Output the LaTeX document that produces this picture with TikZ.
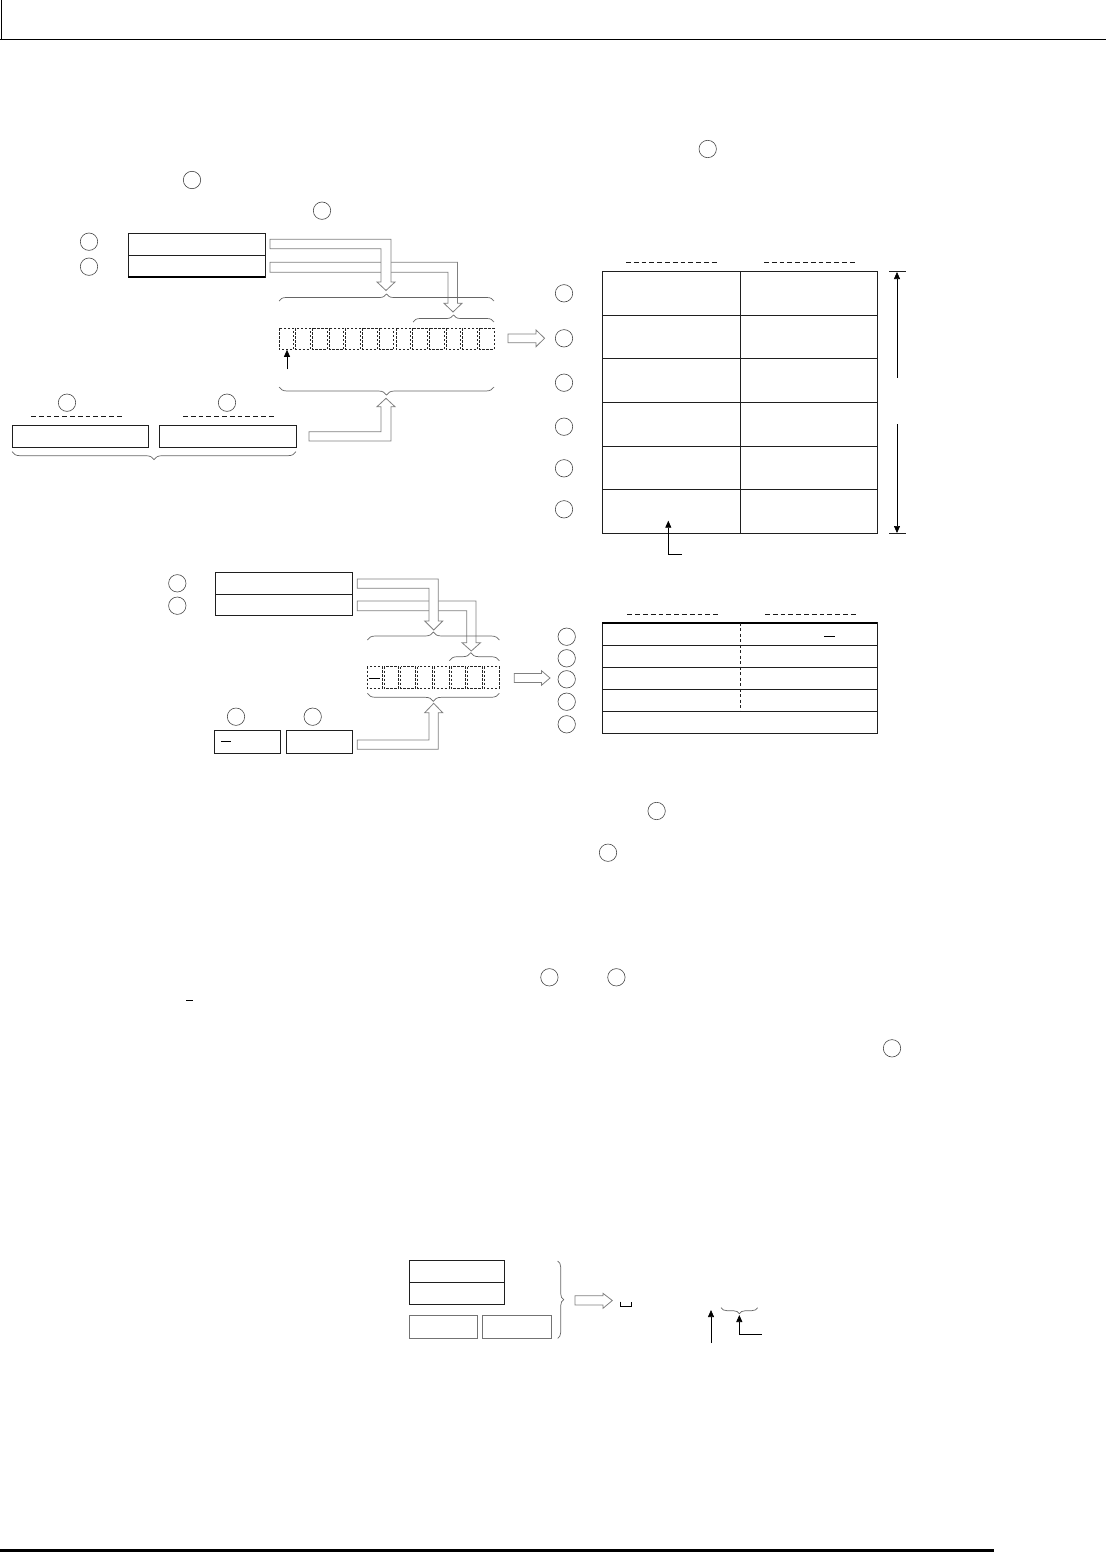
\documentclass[tikz,border=0pt]{standalone}
\usetikzlibrary{arrows.meta,decorations.pathreplacing}
\begin{document}
\begin{tikzpicture}[x=1pt,y=-1pt,
  circ/.style={circle,draw=black!72,line width=0.6pt,minimum size=17.4pt,inner sep=0pt},
  box/.style={draw=black!88,line width=0.9pt},
  graybox/.style={draw=black!55,line width=0.9pt},
  hollow/.style={draw=black!50,fill=white,line width=0.8pt,line join=miter},
  brc/.style={draw=black!60,line width=0.7pt,decorate,decoration={brace,amplitude=#1pt}},
  dline/.style={draw=black!90,line width=0.9pt,dash pattern=on 4.8pt off 3pt},
  cell/.style={draw=black!85,line width=0.7pt,dash pattern=on 2.4pt off 1.6pt},
  ptr/.style={draw=black,line width=0.7pt,-{Triangle[length=7pt,width=6pt]}},
  remnant/.style={draw=black,line width=0.8pt}
]
\useasboundingbox (0,0) rectangle (1106,1552);

% page frame
\draw[line width=0.8pt] (1,0) -- (1,40);
\draw[line width=1.5pt] (0,39.5) -- (1106,39.5);
\draw[line width=2.2pt] (0,1550.5) -- (993.6,1550.5);

% circles in running text
\node[circ] (t1) at (707.7,149) {};
\node[circ] (t2) at (192,180) {};
\node[circ] (t3) at (322,210.7) {};
\node[circ] (t4) at (656.6,811) {};
\node[circ] (t5) at (608,852.7) {};
\node[circ] (t6) at (549.4,977.3) {};
\node[circ] (t7) at (616.4,977.3) {};
\node[circ] (t8) at (892,1048.3) {};
\draw[remnant] (186,1000.7) -- (193,1000.7);

% ===== Section 1 =====
\node[circ] (a1) at (89,241.7) {};
\node[circ] (a2) at (89,266.7) {};
\draw[box] (128,233.3) rectangle (265,277);
\draw[box] (128,255.3) -- (265,255.3);
\draw[line width=1.5pt] (128,277) -- (265,277);

% hollow arrows
\draw[hollow] (270,262.3) -- (457.5,262.3) -- (457.5,303.3) -- (462,303.3) -- (453,312) -- (444,303.3) -- (448,303.3) -- (448,272.3) -- (270,272.3) -- cycle;
\draw[hollow] (270,239.3) -- (391,239.3) -- (391,282) -- (395,282) -- (386,290.5) -- (377,282) -- (381,282) -- (381,248.7) -- (270,248.7) -- cycle;

% braces
\draw[brc=7] (279,301) -- (494,301);
\draw[brc=7] (413,322) -- (494,322);
\draw[brc=8] (494,387) -- (279,387);

% cells
\foreach \i in {0,...,12} \draw[cell] ({279+\i*16.7},328.3) rectangle ++(14.6,21);
\draw[ptr] (287,369.3) -- (287,349.8);

% lower inputs
\node[circ] (a3) at (67,402.7) {};
\node[circ] (a4) at (227,402.7) {};
\draw[dline] (31,416.7) -- (124,416.7);
\draw[dline] (183,416.7) -- (276,416.7);
\draw[box] (12,425.3) rectangle (148,447);
\draw[box] (159,425.3) rectangle (296,447);
\draw[brc=8] (296,451.7) -- (12,451.7);
\draw[hollow] (309,441) -- (391,441) -- (391,406.7) -- (395,406.7) -- (386,398.3) -- (377,406.7) -- (381,406.7) -- (381,431.7) -- (309,431.7) -- cycle;

% arrow to table
\draw[hollow] (508,334) -- (536,334) -- (536,330) -- (544.6,338.3) -- (536,346.7) -- (536,342.7) -- (508,342.7) -- cycle;

% table 1
\draw[dline] (626,262.3) -- (719.3,262.3);
\draw[dline] (764,262.3) -- (856.7,262.3);
\draw[box] (602.3,271.7) rectangle (877.3,533.3);
\draw[box] (740.3,271.7) -- (740.3,533.3);
\foreach \y in {315.3,358.3,402.3,446.3,489.3} \draw[box] (602.3,\y) -- (877.3,\y);
\foreach \y [count=\k] in {293.3,338.3,382.7,426.7,468.3,509.3} \node[circ] (r\k) at (564,\y) {};
\draw[ptr] (681.7,554) -- (668.3,554) -- (668.3,520.7);
% dimension
\draw[box,line width=0.7pt] (889,271.7) -- (906,271.7);
\draw[box,line width=0.7pt] (889,533.3) -- (906,533.3);
\draw[ptr] (897,377.7) -- (897,272);
\draw[ptr] (897,424) -- (897,533);

% ===== Section 2 =====
\node[circ] (b1) at (177.3,583.3) {};
\node[circ] (b2) at (177.3,605.7) {};
\draw[box] (215,572.3) rectangle (352.7,615);
\draw[box] (215,594.3) -- (352.7,594.3);

\draw[hollow] (357.3,601) -- (476,601) -- (476,642.7) -- (480.5,642.7) -- (471.3,651) -- (462,642.7) -- (466.7,642.7) -- (466.7,610.7) -- (357.3,610.7) -- cycle;
\draw[hollow] (357.3,579) -- (438.3,579) -- (438.3,621) -- (442.7,621) -- (433.7,630) -- (424.7,621) -- (429,621) -- (429,588.3) -- (357.3,588.3) -- cycle;

\draw[brc=8] (367.3,640) -- (499.3,640);
\draw[brc=8,decoration={aspect=0.43}] (449.3,660.7) -- (499.3,660.7);
\foreach \i in {0,...,7} \draw[cell] ({367.3+\i*16.74},666.7) rectangle ++(14.8,21.6);
\draw[remnant] (369.3,678.3) -- (380,678.3);
\draw[brc=8] (499.3,693.3) -- (367.3,693.3);

\node[circ] (b3) at (236,716.7) {};
\node[circ] (b4) at (312.7,716.7) {};
\draw[box] (214.3,730.7) rectangle (280,753.3);
\draw[box] (286,730.7) rectangle (352.3,753.3);
\draw[remnant] (221,741.7) -- (231,741.7);
\draw[hollow] (357.3,749.3) -- (438.3,749.3) -- (438.3,712.7) -- (442.7,712.7) -- (433.7,703.3) -- (424.7,712.7) -- (429,712.7) -- (429,740) -- (357.3,740) -- cycle;

\draw[hollow] (514.3,673.5) -- (541.5,673.5) -- (541.5,670.7) -- (550,678) -- (541.5,685.3) -- (541.5,682.5) -- (514.3,682.5) -- cycle;

% table 2
\draw[dline] (627.3,614) -- (720.7,614);
\draw[dline] (765,614) -- (858.3,614);
\draw[box] (602.3,622.7) rectangle (877.3,733.3);
\draw[line width=1.6pt] (602.3,622.7) -- (877.3,622.7);
\foreach \y in {645.7,667.3,689.3,711.3} \draw[box] (602.3,\y) -- (877.3,\y);
\draw[box,dash pattern=on 3pt off 2.5pt] (740.3,622.7) -- (740.3,711.3);
\draw[remnant] (824,636) -- (835,636);
\foreach \y [count=\k] in {636.7,658.3,679.3,701.7,724.3} \node[circ] (s\k) at (566.7,\y) {};

% ===== Bottom example =====
\draw[box] (409.3,1260.7) rectangle (504.3,1304);
\draw[box] (409.3,1282.3) -- (504.3,1282.3);
\draw[graybox] (409.3,1315.7) rectangle (477.7,1338.3);
\draw[graybox] (482.3,1315.7) rectangle (551,1338.3);
\draw[brc=6] (557.7,1261) -- (557.7,1338.3);
\draw[hollow] (575,1295.7) -- (603,1295.7) -- (603,1293.3) -- (612.3,1300.5) -- (603,1308.3) -- (603,1305) -- (575,1305) -- cycle;
\draw[remnant,line width=0.7pt] (620.7,1301.7) -- (620.7,1306) -- (631.7,1306) -- (631.7,1301.7);
\draw[ptr] (711,1343) -- (711,1310);
\draw[brc=6] (757.7,1307.7) -- (721,1307.7);
\draw[ptr] (761.7,1334.3) -- (739.3,1334.3) -- (739.3,1315);
\end{tikzpicture}
\end{document}
